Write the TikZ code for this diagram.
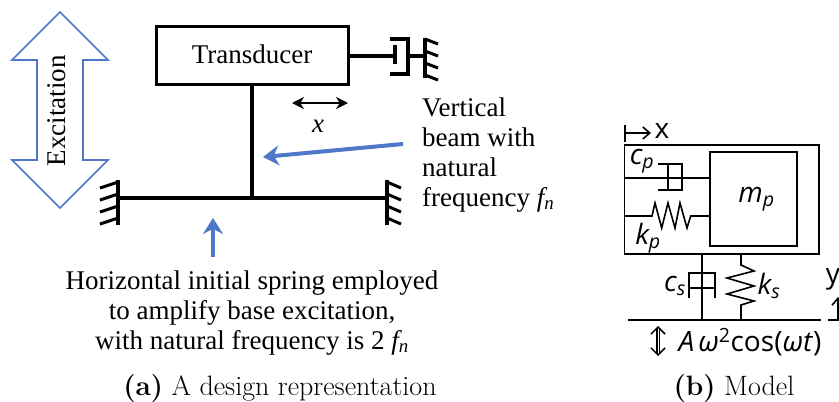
\documentclass[tikz,border=0pt]{standalone}
\usepackage{fontspec}
\setsansfont{Open Sans}
\newfontfamily\notefont{Liberation Serif}
\usetikzlibrary{arrows.meta}
\definecolor{noteblue}{RGB}{79,120,200}
\tikzset{
	thickbar/.style={line width=3.5pt,black},
	thinbar/.style={line width=1.6pt,black},
	notetext/.style={anchor=base west,inner sep=0pt,font=\notefont\fontsize{27}{30}\selectfont},
	captext/.style={anchor=base,inner sep=0pt,font=\fontsize{28}{30}\selectfont},
	modeltext/.style={inner sep=0pt,font=\sffamily\fontsize{28}{30}\selectfont},
	bluearrow/.style={line width=4pt,noteblue,-{Stealth[length=16pt,width=20pt]}},
	openarrow/.style={line width=1.6pt,black,-{Straight Barb[length=7pt,width=12pt]}}
}
\begin{document}
\begin{tikzpicture}[x=1pt,y=-1pt]
	\useasboundingbox (0,0) rectangle (839,402);
	
	\draw[noteblue,line width=1.7pt,fill=white] (60,12) -- (108,60) -- (83,60) -- (83,160) -- (108,160) -- (60,208) -- (12,160) -- (37,160) -- (37,60) -- (12,60) -- cycle;
	\node[notetext,anchor=center,rotate=90] (excitation) at (57,111){Excitation};
	
	\node[draw,line width=3pt,minimum width=192pt,minimum height=58pt,inner sep=0pt,text height=24pt,text depth=7pt,font=\notefont\fontsize{27}{30}\selectfont] (transducer) at (252,55){Transducer};
	
	\coordinate (beamfoot) at (252,198);
	\coordinate (wallleft) at (118,198);
	\coordinate (wallright) at (387,198);
	\draw[thickbar] (transducer.south -| beamfoot) -- (beamfoot);
	\draw[thickbar] (wallleft) -- (wallright);
	\draw[line width=4pt] (118,180) -- (118,225);
	\draw[line width=4pt] (387,180) -- (387,225);
	\foreach \y in {182,194,206,218}{
		\draw[line width=3pt] (118,\y) -- (100,\y+6);
		\draw[line width=3pt] (387,\y) -- (401,\y+6);
	}
	
	\coordinate (pistonrod) at (395,56);
	\coordinate (cuprod) at (408,56);
	\coordinate (wallcup) at (425,56);
	\draw[thickbar] (transducer.east |- pistonrod) -- (pistonrod);
	\draw[thickbar] (cuprod) -- (wallcup);
	\draw[line width=3.5pt] (395,45) -- (395,64);
	\draw[thickbar] (390,39) -- (408,39) -- (408,74) -- (390,74);
	\draw[line width=4pt] (425,38) -- (425,78);
	\foreach \y in {39,51,63,75}{
		\draw[line width=3pt] (425,\y) -- (438,\y+5);
	}
	
	\coordinate (moveleft) at (292,103);
	\coordinate (moveright) at (348,103);
	\draw[line width=1.5pt,{Stealth[length=12pt,width=12pt]}-{Stealth[length=12pt,width=12pt]}] (moveleft) -- (moveright);
	\node[notetext,anchor=center] (movex) at (318,126){\textit{x}};
	
	\node[notetext] (beamnote) at (422,116){\begin{tabular}[t]{@{}l@{}}Vertical\\beam with\\natural\\frequency \textit{f\textsubscript{n}}\end{tabular}};
	\coordinate (beamnotetail) at (403,144);
	\coordinate (beamnotetip) at (263,157);
	\draw[bluearrow] (beamnotetail) -- (beamnotetip);
	
	\node[notetext,anchor=base] (springnote) at (252,289){\begin{tabular}[t]{@{}c@{}}Horizontal initial spring employed\\to amplify base excitation,\\with natural frequency is 2 \textit{f\textsubscript{n}}\end{tabular}};
	\coordinate (springnotetail) at (213,257);
	\coordinate (springnotetip) at (213,218);
	\draw[bluearrow] (springnotetail) -- (springnotetip);
	
	\node[captext] (capa) at (280,395){\textbf{(a)} A design representation};
	\node[captext] (capb) at (734,395){\textbf{(b)} Model};
	
	\draw[thinbar] (624.5,145) rectangle (819,254);
	\node[draw,line width=1.8pt,minimum width=87pt,minimum height=94pt,inner sep=0pt,modeltext] (mass) at (753.5,199){\hspace{6pt}\textit{m\textsubscript{p}}};
	
	\coordinate (markstart) at (625,133);
	\coordinate (markend) at (651,133);
	\draw[thinbar] (625,125) -- (625,142);
	\draw[openarrow] (markstart) -- (markend);
	\node[modeltext] (xmark) at (662,131){x};
	
	\coordinate (cplink) at (624.5,178);
	\draw[thinbar] (cplink) -- (mass.west |- cplink);
	\draw[thinbar] (658,164) -- (682,164) -- (682,190) -- (658,190);
	\draw[thinbar] (668,164) -- (668,190);
	\node[modeltext] (cp) at (642,161){\textit{c\textsubscript{p}}};
	
	\coordinate (kplink) at (624.5,216);
	\draw[thinbar] (kplink) -- (652,216) -- (655,203) -- (661.7,228) -- (668,203) -- (675,228) -- (680,203) -- (687,228) -- (690.7,216) -- (mass.west |- kplink);
	\node[modeltext] (kp) at (648,238){\textit{k\textsubscript{p}}};
	
	\coordinate (csfoot) at (702,320);
	\coordinate (ksfoot) at (741,320);
	\draw[thinbar] (702,254) -- (csfoot);
	\draw[thinbar] (689,298) -- (689,273) -- (715,273) -- (715,298);
	\draw[thinbar] (689,288) -- (715,288);
	\node[modeltext] (cs) at (675,286){\textit{c\textsubscript{s}}};
	
	\draw[thinbar] (741,254) -- (741,265) -- (754,271) -- (727,278) -- (754,286) -- (727,294) -- (754,301) -- (741,305) -- (ksfoot);
	\node[modeltext] (ks) at (769,286){\textit{k\textsubscript{s}}};
	
	\draw[line width=2pt] (628,320) -- (821,320);
	\draw[line width=2pt] (828,320) -- (839,320);
	\node[modeltext] (ymark) at (833,279){y};
	\coordinate (ybase) at (838,320);
	\coordinate (ytip) at (838,297);
	\draw[openarrow] (ybase) -- (ytip);
	
	\coordinate (shaketop) at (658,326);
	\coordinate (shakebottom) at (658,356);
	\draw[line width=1.5pt,double,double distance=0.8pt,{Straight Barb[length=7pt,width=14pt]}-{Straight Barb[length=7pt,width=14pt]}] (shaketop) -- (shakebottom);
	\node[modeltext] (shake) at (750,342){\textit{A$\,$ω}\textsuperscript{2}cos(\textit{ωt})};
\end{tikzpicture}
\end{document}
